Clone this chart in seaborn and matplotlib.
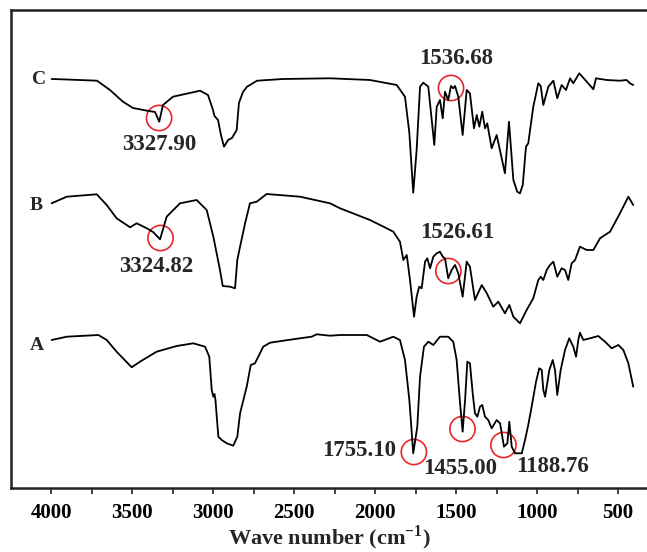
import matplotlib
matplotlib.use("Agg")
import matplotlib.pyplot as plt
import seaborn as sns
import pandas as pd
from matplotlib.ticker import MultipleLocator

# ---- data (wavenumber cm^-1, transmittance a.u.) ----
wn_C = [3996, 3903, 3716, 3636, 3556, 3494, 3407, 3358, 3332, 3309, 3247, 3080, 3031, 3000, 2991, 2969,
        2951, 2932, 2907, 2883, 2854, 2840, 2815, 2790, 2728, 2568, 2278, 2031, 1866, 1815, 1788, 1764,
        1743, 1722, 1702, 1671, 1634, 1619, 1599, 1582, 1568, 1548, 1531, 1517, 1506, 1486, 1459, 1434,
        1414, 1389, 1372, 1356, 1338, 1321, 1307, 1280, 1249, 1198, 1173, 1146, 1122, 1105, 1088, 1068,
        1054, 1023, 992, 977, 961, 930, 899, 875, 848, 821, 796, 776, 739, 693, 652, 636, 570, 488, 447,
        426, 406]
T_C = [409, 408.5, 407.3, 398, 386.3, 380, 377.3, 376, 366.3, 383, 391.3, 397.3, 393, 378, 372, 368,
       353, 341.3, 348, 350, 358, 385, 396, 401.3, 407.3, 409, 409.7, 408, 403, 391.3, 355, 295.3,
       338, 401.3, 405.3, 401.3, 343, 381.3, 388, 369.7, 396.3, 388, 402, 399.7, 402, 391.3, 353, 398,
       394.7, 359.7, 373, 361.3, 376.3, 359.7, 364.7, 339.7, 353, 314.7, 366.3, 308, 296.3, 294.7, 303, 341.3,
       344.7, 381.3, 404.7, 402, 383, 401.3, 407.3, 389.7, 403, 398, 409.7, 404.7, 414.7, 406.3, 398.7, 409.7, 408, 407.3, 408,
       404.7, 403]

wn_B = [3996, 3903, 3718, 3656, 3595, 3512, 3471, 3409, 3370, 3327, 3286, 3204, 3101, 3039, 2998, 2957,
        2940, 2895, 2864, 2850, 2833, 2802, 2772, 2730, 2669, 2463, 2278, 2216, 2031, 1928, 1887, 1846,
        1825, 1804, 1784, 1759, 1743, 1727, 1712, 1691, 1677, 1660, 1640, 1619, 1599, 1582, 1568, 1548,
        1527, 1506, 1486, 1459, 1434, 1414, 1383, 1341, 1310, 1270, 1239, 1198, 1171, 1146, 1105, 1064,
        1023, 992, 977, 961, 940, 920, 899, 875, 848, 827, 807, 786, 765, 735, 693, 652, 611, 549, 488,
        436, 406]
T_B = [284.7, 291.3, 293.7, 283, 269.7, 260.7, 264.7, 259.7, 256, 248.7, 271.3, 284.7, 288, 278, 251.3, 218,
       202, 201.3, 199.7, 228, 241.3, 264.7, 284.7, 286.3, 294, 291.3, 284.7, 279.7, 268, 259.7, 256.3, 246.3,
       228, 233, 208, 171.3, 191.3, 201.3, 199.7, 226.3, 229.7, 219.7, 231.3, 234.7, 236.3, 231.3, 229.7, 209.7,
       218, 223, 214.7, 191.3, 226.3, 221.3, 188, 203, 194.7, 181.3, 186.3, 174.7, 183, 171.3, 164.7, 178,
       189.7, 208, 211.3, 208, 218, 223, 226.3, 211.3, 219.7, 218, 208, 224.7, 228, 241.3, 238, 238, 249.7, 256.3, 274.7,
       291.3, 283]

wn_A = [3996, 3903, 3708, 3656, 3595, 3502, 3451, 3348, 3224, 3122, 3049, 3023, 3008, 2998, 2991, 2985,
        2967, 2946, 2915, 2875, 2850, 2833, 2792, 2767, 2741, 2690, 2648, 2566, 2463, 2391, 2360, 2278,
        2216, 2051, 1969, 1887, 1846, 1815, 1788, 1764, 1739, 1722, 1698, 1671, 1640, 1599, 1548, 1517,
        1496, 1475, 1459, 1444, 1430, 1414, 1397, 1383, 1368, 1352, 1338, 1321, 1301, 1280, 1249, 1228,
        1204, 1183, 1171, 1156, 1136, 1094, 1074, 1054, 1033, 1006, 986, 971, 961, 950, 924, 903, 889,
        875, 854, 827, 801, 776, 759, 745, 735, 714, 673, 622, 580, 539, 498, 467, 436, 406]
T_A = [148, 151.3, 153, 148, 136.3, 120.7, 126.3, 136.3, 142, 144.7, 141.3, 131.3, 98, 91.3, 94, 88,
       51.3, 48, 44.7, 42.3, 51.3, 74.7, 101.3, 123, 124.7, 141.3, 145.3, 147.3, 149.7, 151.3, 153.7, 152.3,
       153, 153, 146.3, 151.3, 148, 128, 88, 34.7, 61.3, 111.3, 141.3, 146.3, 143, 151.3, 151.3, 146.3,
       128, 84.7, 56.3, 88, 126.3, 124.7, 94.7, 74.7, 71.3, 81.3, 83, 71.3, 68, 59.7, 68, 64.7,
       41.3, 44.7, 66.3, 41.3, 34.7, 34.7, 48, 63, 81.3, 106.3, 119.7, 118, 98, 91.3, 118, 128, 118,
       93, 118, 138, 149.7, 141.3, 131.3, 148, 155.3, 148, 149.7, 152, 146.3, 139.7, 143, 138, 124.7, 101.3]

curve_names = ["A", "B", "C"]
curve_label_pos = {"A": (4090, 143), "B": (4090, 283), "C": (4075, 409)}

peak_labels = ["3327.90", "3324.82", "1536.68", "1526.61", "1755.10", "1455.00", "1188.76"]
circle_wn = [3333, 3324, 1531, 1547, 1760, 1460, 1207]
circle_T = [370, 250, 400, 217, 36, 59, 43]
text_wn = [3333, 3352, 1500, 1494, 2099, 1475, 907]
text_T = [344, 221, 430, 255, 38, 20, 22]

xticks = [4000, 3500, 3000, 2500, 2000, 1500, 1000, 500]

# ---- style ----
sns.set_theme(style="ticks")
plt.rcParams["font.family"] = ["Liberation Serif", "DejaVu Serif"]
plt.rcParams["font.weight"] = "bold"
plt.rcParams["mathtext.fontset"] = "custom"
plt.rcParams["mathtext.rm"] = "Liberation Serif:bold"
plt.rcParams["mathtext.bf"] = "Liberation Serif:bold"

fig = plt.figure(figsize=(6.47, 5.52), dpi=100)
ax = fig.add_axes([11 / 647, 64 / 552, 636 / 647, 478 / 552])

df = pd.concat([
    pd.DataFrame({"wn": wn_A, "T": T_A, "sample": "A"}),
    pd.DataFrame({"wn": wn_B, "T": T_B, "sample": "B"}),
    pd.DataFrame({"wn": wn_C, "T": T_C, "sample": "C"}),
])
for name in curve_names:
    sub = df[df["sample"] == name]
    sns.lineplot(data=sub, x="wn", y="T", ax=ax, color="black", linewidth=1.3,
                 estimator=None, sort=False, legend=False)
    lx, ly = curve_label_pos[name]
    ax.text(lx, ly, name, fontsize=14, fontweight="bold", ha="center", va="center")

circ = pd.DataFrame({"wn": circle_wn, "T": circle_T})
sns.scatterplot(data=circ, x="wn", y="T", ax=ax, marker="o", s=330,
                facecolors="none", edgecolor="#e8262a", linewidth=1.2, legend=False)

for lab, x, y in zip(peak_labels, text_wn, text_T):
    ax.text(x, y, lab, fontsize=16.5, fontweight="bold", ha="center", va="center")

ax.set_xlim(4247, 321)
ax.set_ylim(0, 478)
ax.set_xticks(xticks)
ax.xaxis.set_minor_locator(MultipleLocator(250))
ax.set_yticks([])
ax.tick_params(axis="x", which="both", direction="out", length=4, width=1.2,
               labelsize=15, pad=7, colors="#222222")
for lab in ax.get_xticklabels():
    lab.set_fontweight("bold")
    lab.set_color("black")
ax.set_xlabel("Wave number (cm$^{-1}$)", fontsize=16, fontweight="bold", labelpad=0)
ax.set_ylabel("")
for side in ["left", "top", "bottom"]:
    ax.spines[side].set_linewidth(1.8)
    ax.spines[side].set_color("#222222")
ax.spines["right"].set_visible(False)

fig.savefig("out.png", dpi=100)
